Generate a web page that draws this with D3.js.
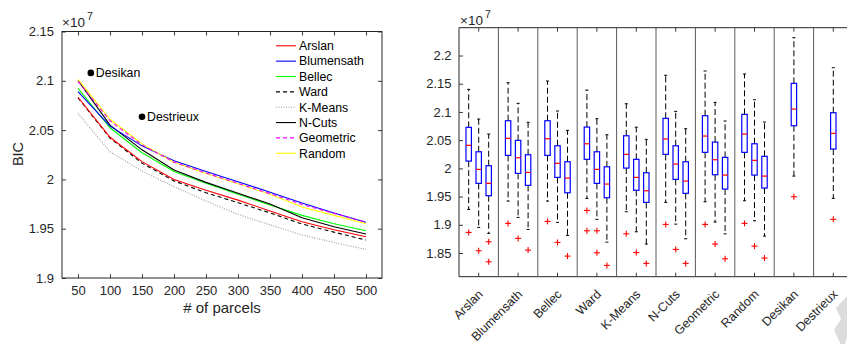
<!DOCTYPE html>
<html><head><meta charset="utf-8">
<script src="https://cdn.jsdelivr.net/npm/d3@7"></script>
<style>
html,body{margin:0;padding:0;background:#fff;}
svg{display:block;font-family:"Liberation Sans",Arial,sans-serif;}
</style></head>
<body><svg id="chart" width="847" height="344"></svg>
<script>
// ---------- Left chart data ----------
const parcels = [50,100,150,200,250,300,350,400,450,500];
const arslan     = [2.0833,2.0427,2.0180,2.0000,1.9890,1.9790,1.9680,1.9570,1.9490,1.9419];
const blumensath = [2.0890,2.0540,2.0340,2.0190,2.0080,1.9977,1.9870,1.9760,1.9660,1.9565];
const bellec     = [2.0924,2.0524,2.0270,2.0080,1.9960,1.9850,1.9740,1.9635,1.9550,1.9480];
const ward       = [2.0828,2.0420,2.0165,1.9985,1.9865,1.9764,1.9660,1.9548,1.9465,1.9385];
const kmeans     = [2.0670,2.0280,2.0085,1.9926,1.9780,1.9646,1.9540,1.9436,1.9360,1.9290];
const ncuts      = [2.1005,2.0550,2.0300,2.0095,1.9970,1.9860,1.9750,1.9610,1.9520,1.9446];
const geometric  = [2.0995,2.0595,2.0350,2.0175,2.0065,1.9960,1.9855,1.9745,1.9655,1.9565];
const random     = [2.1015,2.0610,2.0360,2.0175,2.0060,1.9955,1.9850,1.9720,1.9635,1.9550];
const seriesNames = ["Arslan","Blumensath","Bellec","Ward","K-Means","N-Cuts","Geometric","Random"];
const atlasNames = ["Desikan","Destrieux"];
const atlasParcels = [70,150];
const atlasBIC = [2.108,2.0636];
const leftXTicks = [50,100,150,200,250,300,350,400,450,500];
const leftYTicks = [1.9,1.95,2,2.05,2.1,2.15];
const leftYLabels = ["1.9","1.95","2","2.05","2.1","2.15"];

// ---------- Right chart data (box plots) ----------
const categories = ["Arslan","Blumensath","Bellec","Ward","K-Means","N-Cuts","Geometric","Random","Desikan","Destrieux"];
const subLevels = ["s1","s2","s3"];
// each: [whiskerLow, q1, median, q3, whiskerHigh]
const boxStats = {
  "Arslan":     [[1.9273,2.0129,2.0408,2.0727,2.1400],[1.8954,1.9734,1.9982,2.0294,2.0874],[1.8848,1.9515,1.9734,2.0046,2.0608]],
  "Blumensath": [[1.9420,2.0230,2.0532,2.0844,2.1518],[1.9131,1.9911,2.0188,2.0496,2.1152],[1.8918,1.9699,1.9929,2.0241,2.0816]],
  "Bellec":     [[1.9420,2.0230,2.0525,2.0844,2.1548],[1.9043,1.9840,2.0089,2.0400,2.1016],[1.8812,1.9567,1.9828,2.0117,2.0674]],
  "Ward":       [[1.9468,2.0160,2.0436,2.0732,2.1388],[1.9096,1.9734,1.9982,2.0294,2.0880],[1.8693,1.9479,1.9722,2.0028,2.0596]],
  "K-Means":    [[1.9231,2.0005,2.0248,2.0578,2.1145],[1.8876,1.9612,1.9840,2.0160,2.0730],[1.8658,1.9397,1.9603,1.9922,2.0514]],
  "N-Cuts":     [[1.9397,2.0248,2.0520,2.0887,2.1649],[1.9012,1.9805,2.0076,2.0400,2.1010],[1.8752,1.9557,1.9775,2.0117,2.0702]],
  "Geometric":  [[1.9408,2.0284,2.0573,2.0933,2.1725],[1.9048,1.9887,2.0153,2.0466,2.1170],[1.8840,1.9633,1.9881,2.0195,2.0839]],
  "Random":     [[1.9426,2.0284,2.0608,2.0957,2.1672],[1.9071,1.9881,2.0142,2.0436,2.1216],[1.8800,1.9651,1.9863,2.0213,2.0821]],
  "Desikan":    [[1.9863,2.0755,2.1051,2.1507,2.2316]],
  "Destrieux":  [[1.9468,2.0342,2.0621,2.0986,2.1784]]
};
const outliers = {
  "Arslan":     [[1.8865],[1.8540],[1.8699,1.8344]],
  "Blumensath": [[1.9025],[1.8759],[1.8551]],
  "Bellec":     [[1.9060],[1.8688],[1.8445]],
  "Ward":       [[1.9255,1.8894],[1.8894,1.8504],[1.8280]],
  "K-Means":    [[1.8840],[1.8508],[1.8316]],
  "N-Cuts":     [[1.9007],[1.8564],[1.8316]],
  "Geometric":  [[1.9007],[1.8658],[1.8397]],
  "Random":     [[1.9025],[1.8622],[1.8410]],
  "Desikan":    [[1.9497]],
  "Destrieux":  [[1.9096]]
};
const rightYTicks = [1.85,1.9,1.95,2,2.05,2.1,2.15,2.2];
const rightYLabels = ["1.85","1.9","1.95","2","2.05","2.1","2.15","2.2"];

const svg = d3.select("#chart");
const axisColor = "#262626";
const fontSize = 13;

// =============== LEFT CHART ===============
const L = {x0:62, x1:382, y0:278, y1:31.5};
const xL = d3.scaleLinear().domain([25,525]).range([L.x0,L.x1]);
const yL = d3.scaleLinear().domain([1.9,2.15]).range([L.y0,L.y1]);
const gL = svg.append("g");

function styleAxis(g){
  g.select(".domain").remove();
  g.selectAll(".tick line").attr("stroke",axisColor).attr("stroke-width",0.9);
  g.selectAll(".tick text").attr("fill",axisColor).attr("font-size",fontSize).attr("font-family","Liberation Sans, Arial, sans-serif");
}
gL.append("g").attr("transform",`translate(0,${L.y0})`)
  .call(d3.axisBottom(xL).tickValues(leftXTicks).tickSize(-4).tickPadding(8).tickFormat(d3.format("d")))
  .call(styleAxis);
gL.append("g").attr("transform",`translate(0,${L.y1})`)
  .call(d3.axisTop(xL).tickValues(leftXTicks).tickSize(-4).tickFormat(""))
  .call(styleAxis);
gL.append("g").attr("transform",`translate(${L.x0},0)`)
  .call(d3.axisLeft(yL).tickValues(leftYTicks).tickSize(-4).tickPadding(8).tickFormat((d,i)=>leftYLabels[i]))
  .call(styleAxis);
gL.append("g").attr("transform",`translate(${L.x1},0)`)
  .call(d3.axisRight(yL).tickValues(leftYTicks).tickSize(-4).tickFormat(""))
  .call(styleAxis);
gL.append("rect").attr("x",L.x0).attr("y",L.y1).attr("width",L.x1-L.x0).attr("height",L.y0-L.y1)
  .attr("fill","none").attr("stroke",axisColor).attr("stroke-width",1);

const seriesData = [arslan,blumensath,bellec,ward,kmeans,ncuts,geometric,random];
const seriesStyle = [
  {c:"#ff0000",d:null},{c:"#0000ff",d:null},{c:"#00ff00",d:null},{c:"#000000",d:"4,3"},
  {c:"#9a9a9a",d:"1,1.5"},{c:"#000000",d:null},{c:"#ff00ff",d:"4,3"},{c:"#ffff00",d:null}
];
const line = d3.line().x((d,i)=>xL(parcels[i])).y(d=>yL(d));
const drawOrder = [4,3,0,2,5,1,7,6];
drawOrder.forEach(k=>{
  gL.append("path").datum(seriesData[k]).attr("d",line).attr("fill","none")
    .attr("stroke",seriesStyle[k].c).attr("stroke-width",1.1)
    .attr("stroke-dasharray",seriesStyle[k].d);
});
// atlas points
atlasNames.forEach((n,i)=>{
  gL.append("circle").attr("cx",xL(atlasParcels[i])).attr("cy",yL(atlasBIC[i])).attr("r",3.3).attr("fill","#000");
  gL.append("text").attr("x",xL(atlasParcels[i])+5).attr("y",yL(atlasBIC[i])+4.5)
    .attr("font-size",12.3).attr("fill","#000").text(n);
});
// legend
const leg = gL.append("g");
seriesNames.forEach((n,i)=>{
  const yy = 45.8 + i*15.35;
  leg.append("line").attr("x1",276).attr("x2",296).attr("y1",yy).attr("y2",yy)
    .attr("stroke",seriesStyle[i].c).attr("stroke-width",1.1).attr("stroke-dasharray",seriesStyle[i].d);
  leg.append("text").attr("x",299).attr("y",yy+4.3).attr("font-size",12.3).attr("fill","#000").text(n);
});
// labels
gL.append("text").attr("x",(L.x0+L.x1)/2).attr("y",313).attr("text-anchor","middle")
  .attr("font-size",15).attr("fill",axisColor).text("# of parcels");
gL.append("text").attr("transform","translate(23,154) rotate(-90)").attr("text-anchor","middle")
  .attr("font-size",14.5).attr("fill",axisColor).text("BIC");
function expLabel(x,y){
  const t = svg.append("text").attr("x",x).attr("y",y).attr("font-size",13.5).attr("fill",axisColor);
  t.append("tspan").text("\u00d710");
  t.append("tspan").attr("dy",-7.5).attr("dx",2).attr("font-size",10.5).text("7");
}
expLabel(62,27.3);
expLabel(460,25);

// =============== RIGHT CHART ===============
const R = {x0:459, x1:853, y0:276.7, y1:27.7};
const xR = d3.scaleBand().domain(categories).range([R.x0,R.x1]);
const yR = d3.scaleLinear().domain([1.808,2.2493]).range([R.y0,R.y1]);
const sub = d3.scalePoint().domain(subLevels).range([-10,10]);
const gR = svg.append("g");

gR.append("g").attr("transform",`translate(${R.x0},0)`)
  .call(d3.axisLeft(yR).tickValues(rightYTicks).tickSize(-4).tickPadding(7.5).tickFormat((d,i)=>rightYLabels[i]))
  .call(styleAxis);
gR.append("g").attr("transform",`translate(0,${R.y0})`)
  .call(d3.axisBottom(xR).tickSize(-4).tickFormat(""))
  .call(styleAxis);
gR.append("g").attr("transform",`translate(0,${R.y1})`)
  .call(d3.axisTop(xR).tickSize(-4).tickFormat(""))
  .call(styleAxis);
// frame lines
gR.append("line").attr("x1",R.x0).attr("x2",R.x1).attr("y1",R.y1).attr("y2",R.y1).attr("stroke",axisColor);
gR.append("line").attr("x1",R.x0).attr("x2",R.x1).attr("y1",R.y0).attr("y2",R.y0).attr("stroke",axisColor);
gR.append("line").attr("x1",R.x0).attr("x2",R.x0).attr("y1",R.y1).attr("y2",R.y0).attr("stroke",axisColor);
// separators
categories.slice(1).forEach(c=>{
  const xx = xR(c);
  gR.append("line").attr("x1",xx).attr("x2",xx).attr("y1",R.y1).attr("y2",R.y0)
    .attr("stroke","#5a5a5a").attr("stroke-width",1);
});
// category labels
categories.forEach(c=>{
  const cx = xR(c)+xR.bandwidth()/2;
  gR.append("text").attr("transform",`translate(${cx+5},295) rotate(-45)`)
    .attr("text-anchor","end").attr("font-size",12.5).attr("fill",axisColor).text(c);
});
// boxes
const bw = 5.4;
categories.forEach(c=>{
  const stats = boxStats[c];
  const cx0 = xR(c)+xR.bandwidth()/2;
  stats.forEach((s,j)=>{
    const cx = stats.length===1 ? cx0 : cx0+sub(subLevels[j]);
    const [wl,q1,md,q3,wh] = s;
    const g = gR.append("g");
    g.append("line").attr("x1",cx).attr("x2",cx).attr("y1",yR(q3)).attr("y2",yR(wh))
      .attr("stroke","#000").attr("stroke-width",1).attr("stroke-dasharray","6,3");
    g.append("line").attr("x1",cx).attr("x2",cx).attr("y1",yR(q1)).attr("y2",yR(wl))
      .attr("stroke","#000").attr("stroke-width",1).attr("stroke-dasharray","6,3");
    [wl,wh].forEach(v=>{
      g.append("line").attr("x1",cx-1.5).attr("x2",cx+1.5).attr("y1",yR(v)).attr("y2",yR(v))
        .attr("stroke","#000").attr("stroke-width",1);
    });
    g.append("rect").attr("x",cx-bw/2).attr("y",yR(q3)).attr("width",bw).attr("height",yR(q1)-yR(q3))
      .attr("fill","none").attr("stroke","#0000ff").attr("stroke-width",1.2);
    g.append("line").attr("x1",cx-bw/2).attr("x2",cx+bw/2).attr("y1",yR(md)).attr("y2",yR(md))
      .attr("stroke","#ff0000").attr("stroke-width",1.2);
    outliers[c][j].forEach(v=>{
      const oy = yR(v);
      g.append("line").attr("x1",cx-3).attr("x2",cx+3).attr("y1",oy).attr("y2",oy).attr("stroke","#ff0000").attr("stroke-width",1.1);
      g.append("line").attr("x1",cx).attr("x2",cx).attr("y1",oy-3).attr("y2",oy+3).attr("stroke","#ff0000").attr("stroke-width",1.1);
    });
  });
});
// faint decoration at bottom right corner of the reference
svg.append("polygon").attr("points","836,308 847,296 847,338 843,349 834,330 841,319")
  .attr("fill","#dcdcdc");
</script>
</body></html>
